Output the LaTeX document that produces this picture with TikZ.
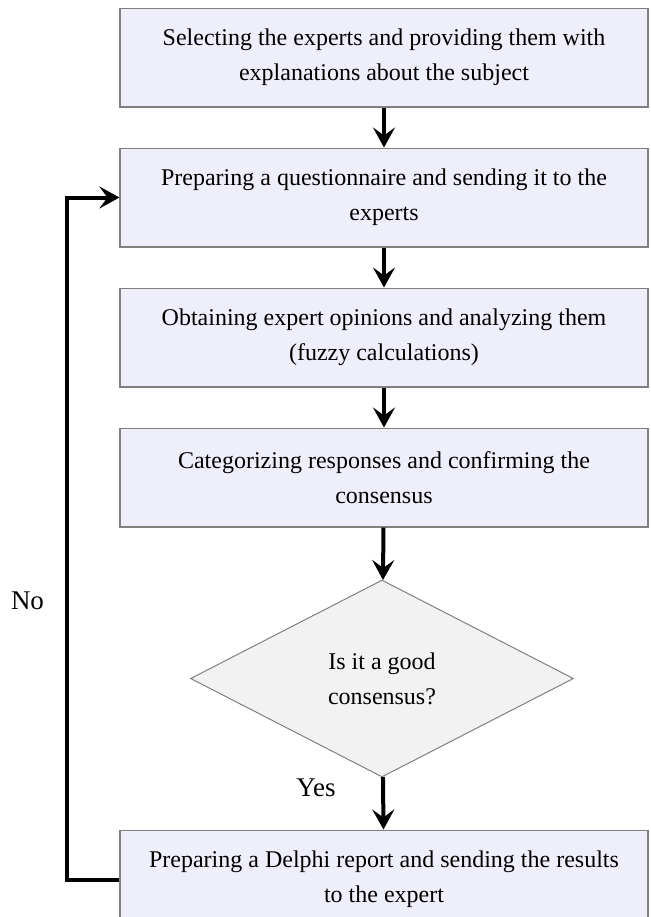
\documentclass[tikz,border=0pt]{standalone}
\usepackage{fontspec}
\setmainfont{Liberation Serif}
\usepackage{tikz}
\usetikzlibrary{arrows.meta,positioning,shapes.geometric}
\definecolor{StepLilac}{HTML}{EFEFFC}
\definecolor{CheckGray}{HTML}{F2F2F2}
\definecolor{EdgeGray}{HTML}{808080}

\begin{document}
\begin{tikzpicture}[node distance=20pt,>={Stealth[length=10pt,width=11pt,inset=4pt]},
  font=\fontsize{12}{17.5}\selectfont]
\tikzstyle{stepbox}=[rectangle,draw=EdgeGray,fill=StepLilac,line width=0.6pt,
                     minimum width=264pt,minimum height=49.4pt,align=center]
\tikzstyle{check}=[diamond,draw=EdgeGray,fill=CheckGray,line width=0.5pt,
                   minimum width=191.5pt,minimum height=98.5pt,align=center,inner sep=0pt]
\tikzstyle{flow}=[->,line width=2pt]
\tikzstyle{answer}=[font=\fontsize{13.5}{16}\selectfont]
\useasboundingbox (0,0) rectangle (325pt,-458.5pt);
\node[stepbox] (select) at (192pt,-28.75pt) {Selecting the experts and providing them with\\explanations about the subject};
\node[stepbox,below=of select] (quest) {Preparing a questionnaire and sending it to the\\experts};
\node[stepbox,below=of quest] (opin) {Obtaining expert opinions and analyzing them\\(fuzzy calculations)};
\node[stepbox,below=of opin] (categ) {Categorizing responses and confirming the\\consensus};
\node[check,below=26pt of categ,xshift=-1pt] (good) {Is it a good\\consensus?};
\node[stepbox,below=26pt of good,xshift=1pt] (report) {Preparing a Delphi report and sending the results\\to the expert};
\coordinate (back) at ([xshift=-26pt]report.west);
\draw[flow] (select) -- (quest);
\draw[flow] (quest) -- (opin);
\draw[flow] (opin) -- (categ);
\draw[flow] (categ) -- (good);
\draw[flow] (good) -- (report);
\node[answer] (yes) at ([xshift=-33pt,yshift=-5pt]good.south) {Yes};
\draw[flow] (report.west) -- (back) |- (quest.west);
\node[answer] (no) at (13.75pt,-300.5pt) {No};
\end{tikzpicture}
\end{document}
